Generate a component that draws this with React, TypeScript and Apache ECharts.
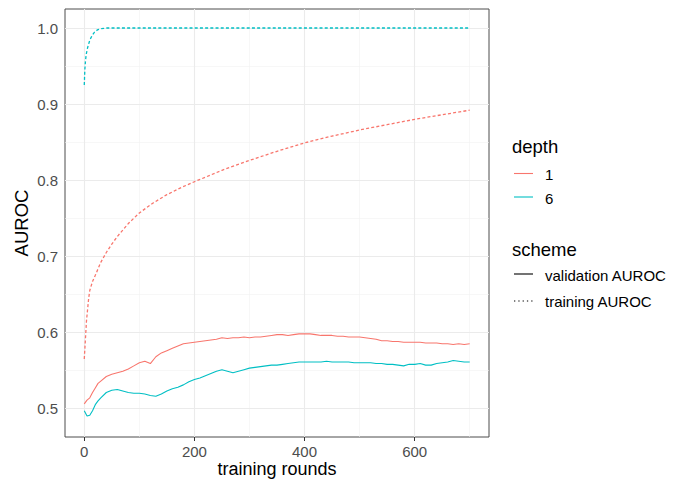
import React, { useEffect, useRef } from "react";
import * as echarts from "echarts";

// ---- data ----
const valRounds = [0, 5, 10, 15, 20, 25, 30, 40, 50, 60, 70, 80, 90, 100, 110, 120, 130, 140, 150, 160, 170, 180, 190, 200, 210, 220, 230, 240, 250, 260, 270, 280, 290, 300, 310, 320, 330, 340, 350, 360, 370, 380, 390, 400, 410, 420, 430, 440, 450, 460, 470, 480, 490, 500, 510, 520, 530, 540, 550, 560, 570, 580, 590, 600, 610, 620, 630, 640, 650, 660, 670, 680, 690, 700];

const valDepth1 = [0.506, 0.511, 0.514, 0.521, 0.527, 0.533, 0.536, 0.542, 0.545, 0.547, 0.549, 0.552, 0.556, 0.560, 0.562, 0.559, 0.568, 0.573, 0.576, 0.579, 0.582, 0.585, 0.586, 0.587, 0.588, 0.589, 0.590, 0.591, 0.593, 0.592, 0.593, 0.593, 0.594, 0.593, 0.594, 0.594, 0.595, 0.596, 0.597, 0.597, 0.596, 0.597, 0.598, 0.598, 0.598, 0.597, 0.596, 0.596, 0.596, 0.595, 0.595, 0.594, 0.594, 0.594, 0.593, 0.592, 0.591, 0.589, 0.589, 0.588, 0.588, 0.587, 0.587, 0.587, 0.587, 0.586, 0.586, 0.586, 0.585, 0.585, 0.584, 0.585, 0.584, 0.585];

const valDepth6 = [0.497, 0.490, 0.491, 0.497, 0.505, 0.510, 0.514, 0.521, 0.524, 0.525, 0.523, 0.521, 0.520, 0.520, 0.519, 0.517, 0.516, 0.519, 0.523, 0.526, 0.528, 0.531, 0.535, 0.538, 0.540, 0.543, 0.546, 0.549, 0.551, 0.549, 0.547, 0.549, 0.551, 0.553, 0.554, 0.555, 0.556, 0.557, 0.557, 0.558, 0.559, 0.560, 0.561, 0.561, 0.561, 0.561, 0.561, 0.562, 0.561, 0.561, 0.561, 0.561, 0.560, 0.560, 0.560, 0.560, 0.559, 0.559, 0.558, 0.558, 0.557, 0.556, 0.558, 0.558, 0.559, 0.557, 0.557, 0.559, 0.560, 0.561, 0.563, 0.562, 0.561, 0.561];

const trainRounds1 = [0, 2, 4, 6, 8, 10, 15, 20, 30, 40, 50, 60, 80, 100, 125, 150, 175, 200, 250, 300, 350, 400, 450, 500, 550, 600, 650, 700];
const trainDepth1 = [0.565, 0.59, 0.615, 0.63, 0.645, 0.655, 0.667, 0.675, 0.692, 0.705, 0.716, 0.726, 0.743, 0.757, 0.770, 0.781, 0.790, 0.798, 0.813, 0.826, 0.838, 0.849, 0.858, 0.866, 0.873, 0.880, 0.886, 0.892];

const trainRounds6 = [0, 1, 2, 3, 4, 6, 8, 10, 12, 15, 18, 21, 25, 30, 40, 100, 200, 300, 400, 500, 600, 700];
const trainDepth6 = [0.925, 0.945, 0.955, 0.962, 0.967, 0.974, 0.979, 0.984, 0.987, 0.991, 0.994, 0.996, 0.998, 0.999, 1.0, 1.0, 1.0, 1.0, 1.0, 1.0, 1.0, 1.0];

const xTicks = [0, 200, 400, 600];
const xMinor = [100, 300, 500, 700];
const yTicks = [0.5, 0.6, 0.7, 0.8, 0.9, 1.0];
const yMinor = [0.55, 0.65, 0.75, 0.85, 0.95];

const depthLabels = ["1", "6"];
const schemeLabels = ["validation AUROC", "training AUROC"];

const RED = "#F8766D";
const CYAN = "#00BFC4";
const FONT = "Liberation Sans, Arial, sans-serif";

function pairs(xs: number[], ys: number[]) {
  return xs.map((x, i) => [x, ys[i]]);
}

export default function App() {
  const ref = useRef<HTMLDivElement>(null);
  useEffect(() => {
    document.body.style.margin = "0";
    if (!ref.current) return;
    const chart = echarts.init(ref.current, null, { renderer: "svg" });

    const gridMarks = [
      ...xMinor.map((v) => ({ xAxis: v, lineStyle: { color: "#f2f2f2", width: 0.6, type: "solid" } })),
      ...yMinor.map((v) => ({ yAxis: v, lineStyle: { color: "#f2f2f2", width: 0.6, type: "solid" } })),
      ...xTicks.map((v) => ({ xAxis: v, lineStyle: { color: "#ebebeb", width: 1.1, type: "solid" } })),
      ...yTicks.map((v) => ({ yAxis: v, lineStyle: { color: "#ebebeb", width: 1.1, type: "solid" } })),
    ];

    const legendX = 514;
    const lineLen = 19;
    const textX = 545;
    const titleFont = `18.5px ${FONT}`;
    const itemFont = `15px ${FONT}`;
    const graphics: any[] = [
      { type: "text", left: 512, top: 137, style: { text: "depth", font: titleFont, fill: "#000" } },
      { type: "line", shape: { x1: legendX, y1: 173.5, x2: legendX + lineLen, y2: 173.5 }, style: { stroke: RED, lineWidth: 1.1 } },
      { type: "text", x: textX, y: 174.5, style: { text: depthLabels[0], font: itemFont, fill: "#000", verticalAlign: "middle" } },
      { type: "line", shape: { x1: legendX, y1: 197, x2: legendX + lineLen, y2: 197 }, style: { stroke: CYAN, lineWidth: 1.1 } },
      { type: "text", x: textX, y: 198, style: { text: depthLabels[1], font: itemFont, fill: "#000", verticalAlign: "middle" } },
      { type: "text", left: 512, top: 240, style: { text: "scheme", font: titleFont, fill: "#000" } },
      { type: "line", shape: { x1: legendX, y1: 274, x2: legendX + lineLen, y2: 274 }, style: { stroke: "#000", lineWidth: 1.1 } },
      { type: "text", x: textX, y: 275, style: { text: schemeLabels[0], font: itemFont, fill: "#000", verticalAlign: "middle" } },
      { type: "line", shape: { x1: legendX, y1: 301, x2: legendX + lineLen, y2: 301 }, style: { stroke: "#000", lineWidth: 1.1, lineDash: [1.3, 3] } },
      { type: "text", x: textX, y: 301, style: { text: schemeLabels[1], font: itemFont, fill: "#000", verticalAlign: "middle" } },
    ];

    chart.setOption({
      animation: false,
      backgroundColor: "#fff",
      textStyle: { fontFamily: FONT },
      grid: {
        left: 65,
        right: 202,
        top: 9,
        bottom: 44,
        show: true,
        borderColor: "#4d4d4d",
        borderWidth: 1,
        backgroundColor: "#fff",
        containLabel: false,
        outerBoundsMode: "none",
      },
      xAxis: {
        type: "value",
        min: -35,
        max: 735,
        axisLine: { show: false },
        splitLine: { show: false },
        axisTick: { show: true, length: 4, lineStyle: { color: "#333", width: 1 }, customValues: xTicks },
        axisLabel: { customValues: xTicks, color: "#4d4d4d", fontSize: 15, margin: 7, fontFamily: FONT },
        name: "training rounds",
        nameLocation: "middle",
        nameGap: 23,
        nameMoveOverlap: false,
        nameTextStyle: { fontSize: 18, color: "#000", fontFamily: FONT },
      },
      yAxis: {
        type: "value",
        min: 0.4625,
        max: 1.025,
        axisLine: { show: false },
        splitLine: { show: false },
        axisTick: { show: true, length: 4, lineStyle: { color: "#333", width: 1 }, customValues: yTicks },
        axisLabel: {
          customValues: yTicks,
          color: "#4d4d4d",
          fontSize: 15,
          margin: 7,
          fontFamily: FONT,
          formatter: (v: number) => v.toFixed(1),
        },
        name: "AUROC",
        nameLocation: "middle",
        nameGap: 34,
        nameMoveOverlap: false,
        nameTextStyle: { fontSize: 18.5, color: "#000", fontFamily: FONT },
      },
      series: [
        {
          type: "line",
          data: [],
          silent: true,
          z: 1,
          markLine: { silent: true, z: 1, symbol: ["none", "none"], label: { show: false }, data: gridMarks, animation: false },
        },
        {
          name: "training depth 1",
          type: "line",
          data: pairs(trainRounds1, trainDepth1),
          showSymbol: false,
          lineStyle: { color: RED, width: 1.3, type: [3, 2.2] },
          z: 6,
        },
        {
          name: "training depth 6",
          type: "line",
          data: pairs(trainRounds6, trainDepth6),
          showSymbol: false,
          lineStyle: { color: CYAN, width: 1.3, type: [3, 2.2] },
          z: 6,
        },
        {
          name: "validation depth 1",
          type: "line",
          data: pairs(valRounds, valDepth1),
          showSymbol: false,
          lineStyle: { color: RED, width: 1.1 },
          z: 6,
        },
        {
          name: "validation depth 6",
          type: "line",
          data: pairs(valRounds, valDepth6),
          showSymbol: false,
          lineStyle: { color: CYAN, width: 1.1 },
          z: 6,
        },
      ],
      graphic: graphics,
    });
    return () => chart.dispose();
  }, []);
  return <div ref={ref} style={{ width: 691, height: 481 }} />;
}
